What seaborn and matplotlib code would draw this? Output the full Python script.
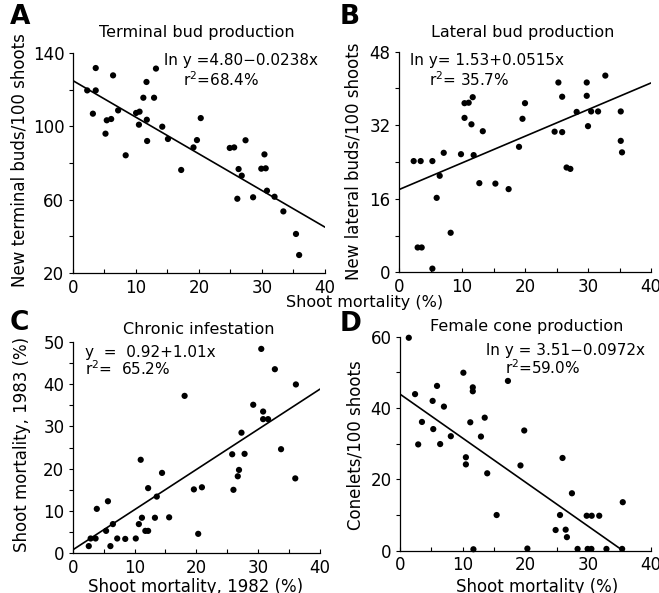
import numpy as np
import pandas as pd
import matplotlib
matplotlib.use("Agg")
import matplotlib.pyplot as plt
from matplotlib.ticker import MultipleLocator, FixedLocator
import seaborn as sns

# --- data ---
# A: terminal buds
a_x = [2.3, 3.65, 3.65, 3.2, 6.4, 5.2, 5.4, 6.1, 7.2, 8.4, 10.05, 10.6, 10.5, 11.2,
       11.7, 11.75, 11.8, 12.9, 13.2, 14.2, 15.1, 17.2, 19.15, 19.7, 20.3, 24.9, 25.6,
       27.4, 26.1, 26.3, 26.8, 28.6, 30.4, 29.9, 30.6, 30.8, 32.0, 33.4, 35.4, 35.9]
a_y = [119.6, 131.8, 119.6, 106.9, 127.8, 96.0, 103.3, 104.0, 108.7, 84.2, 107.3, 108.0,
       100.9, 115.6, 124.2, 103.6, 92.0, 115.6, 131.5, 99.8, 93.1, 76.2, 88.5, 92.5, 104.5,
       88.2, 88.5, 92.4, 60.5, 76.7, 73.1, 61.3, 84.7, 76.9, 77.1, 64.9, 61.6, 53.6, 41.3, 29.8]
a_fit = [125.0, 45.0]
a_yticks = [20, 60, 100, 140]
a_yminor = [40, 80, 120]

# B: lateral buds
b_x = [2.33, 3.44, 2.96, 3.6, 5.3, 5.3, 5.98, 6.46, 7.1, 8.2, 9.84, 10.4, 10.4, 11.06,
       11.7, 11.5, 11.85, 12.75, 13.3, 15.3, 17.4, 19.05, 19.6, 20.0, 24.7, 25.3, 25.9,
       25.9, 26.6, 27.2, 28.2, 29.8, 29.8, 30.0, 30.5, 31.6, 32.75, 35.2, 35.2, 35.4]
b_y = [24.2, 24.2, 5.4, 5.4, 24.2, 0.8, 16.2, 21.0, 26.0, 8.6, 25.7, 33.6, 36.8, 36.9,
       38.1, 32.2, 25.5, 19.4, 30.7, 19.3, 18.1, 27.3, 33.4, 36.8, 30.6, 41.3, 38.2, 30.5,
       22.8, 22.5, 34.9, 41.3, 38.4, 31.8, 35.0, 35.0, 42.8, 35.0, 28.6, 26.1]
b_fit = [18.0, 41.2]
b_yticks = [0, 16, 32, 48]
b_yminor = [8, 24, 40]

# C: chronic infestation
c_x = [2.6, 2.9, 3.7, 3.9, 5.4, 5.7, 6.1, 6.5, 7.2, 8.5, 10.2, 10.7, 11.0, 11.2, 11.75,
       12.2, 12.2, 13.3, 13.6, 14.45, 15.6, 18.1, 19.6, 20.3, 20.9, 25.8, 26.0, 26.7, 26.9,
       27.3, 27.8, 29.2, 30.5, 30.8, 30.8, 31.6, 32.7, 33.7, 36.1, 36.0]
c_y = [1.7, 3.5, 3.5, 10.5, 5.3, 12.3, 1.7, 6.9, 3.5, 3.4, 3.5, 6.9, 22.1, 8.4, 5.3,
       5.3, 15.4, 8.4, 13.4, 19.0, 8.5, 37.2, 15.1, 4.6, 15.6, 23.4, 15.0, 18.2, 19.7,
       28.5, 23.5, 35.1, 48.3, 33.5, 31.7, 31.7, 43.5, 24.6, 39.9, 17.7]
c_fit = [0.8, 38.8]
c_yticks = [0, 10, 20, 30, 40, 50]
c_yminor = [5, 15, 25, 35, 45]

# D: female cones
d_x = [1.4, 2.4, 2.9, 3.5, 5.2, 5.3, 5.9, 6.4, 7.0, 8.1, 10.1, 10.5, 10.5, 11.2, 11.6,
       11.6, 11.7, 12.9, 13.5, 13.9, 15.4, 17.2, 19.2, 19.8, 20.3, 24.8, 25.5, 25.9, 26.4,
       26.6, 27.4, 28.3, 29.75, 29.9, 30.5, 30.55, 31.75, 32.9, 35.4, 35.5]
d_y = [59.7, 43.9, 29.8, 36.1, 42.0, 34.1, 46.2, 29.9, 40.4, 32.1, 49.9, 26.2, 24.2, 36.0,
       45.8, 44.7, 0.4, 32.0, 37.3, 21.7, 10.0, 47.6, 23.9, 33.7, 0.6, 5.8, 10.0, 26.0, 5.9,
       3.8, 16.1, 0.5, 9.8, 0.5, 0.5, 9.8, 9.8, 0.5, 0.5, 13.6]
d_fit_x = [0, 35.3]
d_fit = [43.9, 0.3]
d_yticks = [0, 20, 40, 60]
d_yminor = [10, 30, 50]

sns.set_style("ticks")
plt.rcParams['font.family'] = ['DejaVu Sans']
plt.rcParams['text.color'] = 'black'
plt.rcParams['xtick.color'] = 'black'
plt.rcParams['ytick.color'] = 'black'

fig = plt.figure(figsize=(6.59, 5.93), dpi=100)
W, H = 659, 593

def box(left, right, top, bottom):
    return [left / W, 1 - bottom / H, (right - left) / W, (bottom - top) / H]

panels = [
    dict(pos=box(72.7, 325, 53, 273), x=a_x, y=a_y, fx=[0, 40], fy=a_fit,
         ylim=(20, 140), yt=a_yticks, ym=a_yminor, letter="A", lxy=(10, 30),
         title="Terminal bud production", txy=(197, 33),
         eq1="ln y =4.80\u22120.0238x", e1=(164, 61), eq2="r$^2$=68.4%", e2=(183, 80),
         ylabel="New terminal buds/100 shoots", yl=(20, 160)),
    dict(pos=box(399, 651, 51.7, 272.3), x=b_x, y=b_y, fx=[0, 40], fy=b_fit,
         ylim=(0, 48), yt=b_yticks, ym=b_yminor, letter="B", lxy=(340, 30),
         title="Lateral bud production", txy=(523, 32),
         eq1="ln y= 1.53+0.0515x", e1=(410, 61), eq2="r$^2$= 35.7%", e2=(429, 80),
         ylabel="New lateral buds/100 shoots", yl=(353, 161)),
    dict(pos=box(72.7, 320, 341.7, 553.3), x=c_x, y=c_y, fx=[0, 40], fy=c_fit,
         ylim=(0, 50), yt=c_yticks, ym=c_yminor, letter="C", lxy=(10, 336),
         title="Chronic infestation", txy=(199, 329),
         eq1="y  =  0.92+1.01x", e1=(85, 352), eq2="r$^2$=  65.2%", e2=(85, 369),
         ylabel="Shoot mortality, 1983 (%)", yl=(22, 444),
         xlabel="Shoot mortality, 1982 (%)", xl=(196, 587)),
    dict(pos=box(400, 651, 336.7, 550.7), x=d_x, y=d_y, fx=d_fit_x, fy=d_fit,
         ylim=(0, 60), yt=d_yticks, ym=d_yminor, letter="D", lxy=(340, 337),
         title="Female cone production", txy=(527, 327),
         eq1="ln y = 3.51\u22120.0972x", e1=(486, 351), eq2="r$^2$=59.0%", e2=(505, 368),
         ylabel="Conelets/100 shoots", yl=(355, 445),
         xlabel="Shoot mortality (%)", xl=(537, 587)),
]

for p in panels:
    ax = fig.add_axes(p["pos"])
    df = pd.DataFrame({"x": p["x"], "y": p["y"]})
    sns.scatterplot(data=df, x="x", y="y", ax=ax, color="black", s=20,
                    edgecolor="none", clip_on=False, zorder=3)
    sns.lineplot(x=p["fx"], y=p["fy"], ax=ax, color="black", linewidth=1.2)
    ax.set_xlim(0, 40)
    ax.set_ylim(*p["ylim"])
    ax.xaxis.set_major_locator(MultipleLocator(10))
    ax.xaxis.set_minor_locator(MultipleLocator(5))
    ax.yaxis.set_major_locator(FixedLocator(p["yt"]))
    ax.yaxis.set_minor_locator(FixedLocator(p["ym"]))
    ax.tick_params(axis="x", which="both", direction="in", length=3, width=0.8,
                   labelsize=12, pad=4)
    ax.tick_params(axis="y", which="both", direction="out", length=3, width=0.8,
                   labelsize=12, pad=3)
    sns.despine(ax=ax)
    for s in ["left", "bottom"]:
        ax.spines[s].set_linewidth(0.9)
        ax.spines[s].set_color("black")
    ax.set_xlabel("")
    ax.set_ylabel("")

    fig.text(p["lxy"][0] / W, 1 - p["lxy"][1] / H, p["letter"], fontsize=19,
             fontweight="bold", va="bottom", ha="left")
    fig.text(p["txy"][0] / W, 1 - p["txy"][1] / H, p["title"], fontsize=11.5,
             ha="center", va="center")
    fig.text(p["e1"][0] / W, 1 - p["e1"][1] / H, p["eq1"], fontsize=11,
             ha="left", va="center")
    fig.text(p["e2"][0] / W, 1 - p["e2"][1] / H, p["eq2"], fontsize=11,
             ha="left", va="center")
    fig.text(p["yl"][0] / W, 1 - p["yl"][1] / H, p["ylabel"], fontsize=12,
             ha="center", va="center", rotation=90)
    if "xlabel" in p:
        fig.text(p["xl"][0] / W, 1 - p["xl"][1] / H, p["xlabel"], fontsize=12,
                 ha="center", va="center")

# shared x label between the top panels
fig.text(365 / W, 1 - 303 / H, "Shoot mortality (%)", fontsize=11.5,
         ha="center", va="center")

fig.savefig("out.png", dpi=100, facecolor="white")
